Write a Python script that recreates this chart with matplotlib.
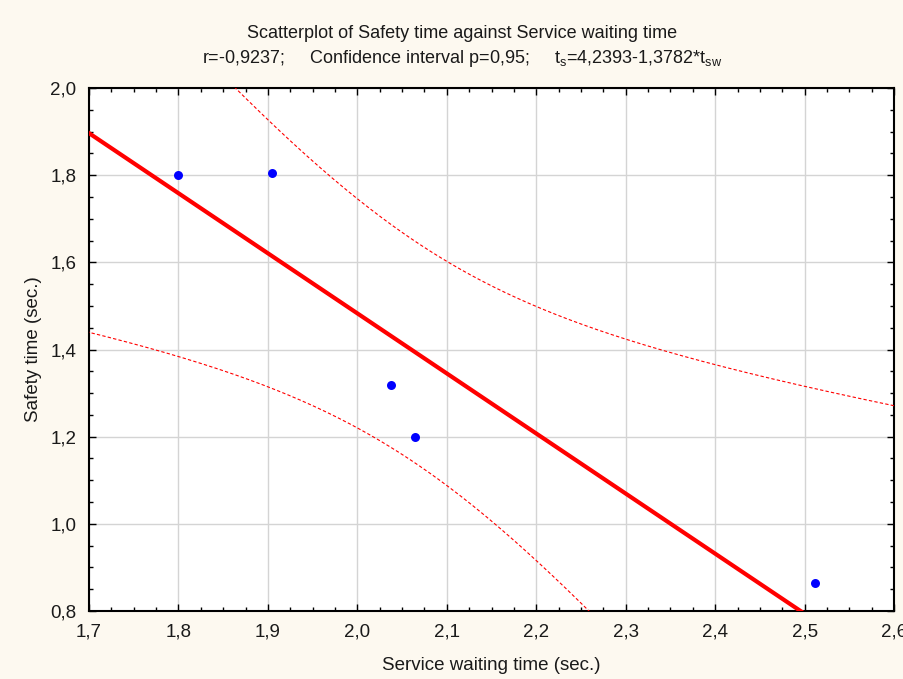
import numpy as np
import matplotlib
matplotlib.use("Agg")
import matplotlib.pyplot as plt
from matplotlib.ticker import MultipleLocator, FuncFormatter

plt.rcParams['font.family'] = ['Liberation Sans', 'DejaVu Sans']
plt.rcParams['mathtext.fontset'] = 'custom'
plt.rcParams['mathtext.rm'] = 'Liberation Sans'
plt.rcParams['mathtext.it'] = 'Liberation Sans:italic'

# Observations
service_wait = [1.800, 1.904, 2.038, 2.064, 2.512]
safety_time = [1.800, 1.805, 1.319, 1.200, 0.865]

# Regression coefficients as reported
intercept = 4.2393
slope = -1.3782
r_value = "-0,9237"
conf_level = "0,95"
t_crit = 3.1824  # Student t, 0.975 quantile, 3 degrees of freedom

x_ticks = [1.7, 1.8, 1.9, 2.0, 2.1, 2.2, 2.3, 2.4, 2.5, 2.6]
y_ticks = [0.8, 1.0, 1.2, 1.4, 1.6, 1.8, 2.0]

bg = '#fdf9f0'
text_col = '#1a1a1a'
fig = plt.figure(figsize=(9.04, 6.79), dpi=100, facecolor=bg)
ax = fig.add_axes([0.0985, 0.1001, 0.8905, 0.7703])
ax.set_facecolor('white')

x = np.asarray(service_wait)
y = np.asarray(safety_time)
n = len(x)
fit = intercept + slope * x
s = np.sqrt(np.sum((y - fit) ** 2) / (n - 2))
sxx = np.sum((x - x.mean()) ** 2)

xs = np.linspace(1.6, 2.7, 400)
ys = intercept + slope * xs
half = t_crit * s * np.sqrt(1.0 / n + (xs - x.mean()) ** 2 / sxx)

ax.plot(xs, ys, color='#ff0000', lw=3.0, zorder=3)
ax.plot(xs, ys + half, color='#ff0000', lw=0.8, ls=(0, (3, 2)), zorder=3)
ax.plot(xs, ys - half, color='#ff0000', lw=0.8, ls=(0, (3, 2)), zorder=3)
ax.scatter(x, y, s=42, color='#0000ff', zorder=4, linewidths=0)

ax.set_xlim(1.7, 2.6)
ax.set_ylim(0.8, 2.0)
ax.set_xticks(x_ticks)
ax.set_yticks(y_ticks)
ax.xaxis.set_minor_locator(MultipleLocator(0.025))
ax.yaxis.set_minor_locator(MultipleLocator(0.05))
comma = FuncFormatter(lambda v, p: f"{v:.1f}".replace('.', ','))
ax.xaxis.set_major_formatter(comma)
ax.yaxis.set_major_formatter(comma)

ax.grid(True, which='major', color='#d4d4d4', lw=1.0, zorder=0)
ax.set_axisbelow(True)
ax.tick_params(which='both', direction='in', top=True, right=True, color='black',
               labelcolor=text_col)
ax.tick_params(which='major', length=5, width=1, labelsize=13.5)
ax.tick_params(axis='x', which='major', pad=9)
ax.tick_params(axis='y', which='major', pad=9)
ax.tick_params(which='minor', length=3, width=1)
for sp in ax.spines.values():
    sp.set_linewidth(1.5)

ax.set_xlabel("Service waiting time (sec.)", fontsize=13.5, labelpad=12, color=text_col)
ax.set_ylabel("Safety time (sec.)", fontsize=13.5, labelpad=6, color=text_col)

fig.text(0.511, 0.950, "Scatterplot of Safety time against Service waiting time",
         ha='center', va='center', fontsize=13, color=text_col)
fig.text(0.511, 0.914,
         "r=" + r_value + ";     Confidence interval p=" + conf_level +
         r";     t$_\mathrm{s}$=4,2393-1,3782*t$_\mathrm{sw}$",
         ha='center', va='center', fontsize=13, color=text_col)

fig.savefig("out.png", dpi=100, facecolor=bg)
